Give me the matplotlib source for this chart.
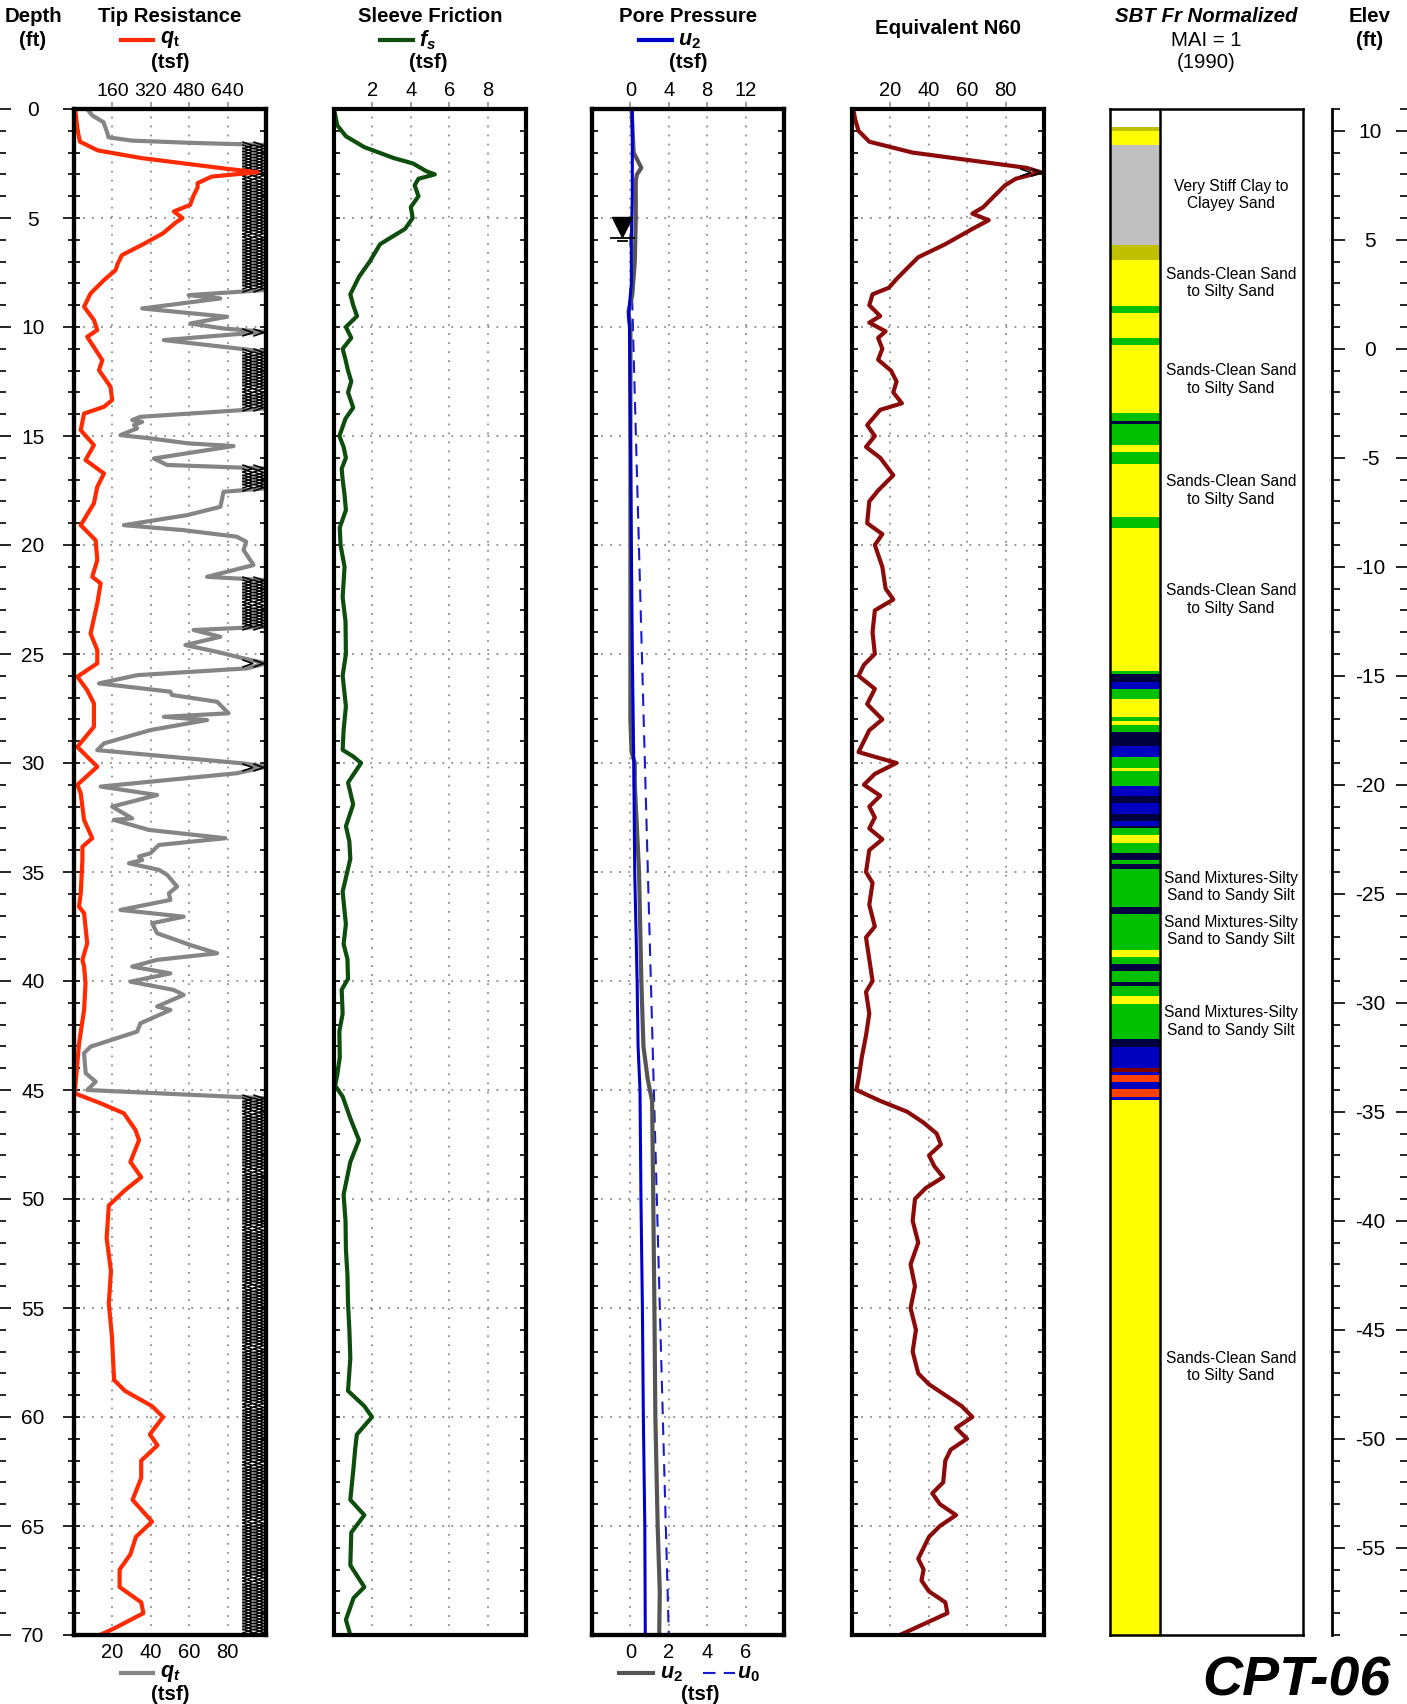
import matplotlib
matplotlib.use('Agg')
import matplotlib.pyplot as plt
import numpy as np
from matplotlib.path import Path
from matplotlib.lines import Line2D
from matplotlib.ticker import MultipleLocator

plt.rcParams['font.family'] = ['Liberation Sans', 'DejaVu Sans']
plt.rcParams['axes.unicode_minus'] = False
plt.rcParams['mathtext.fontset'] = 'custom'
plt.rcParams['mathtext.it'] = 'Liberation Sans:bold:italic'
plt.rcParams['mathtext.rm'] = 'Liberation Sans:bold'
plt.rcParams['mathtext.bf'] = 'Liberation Sans:bold'

# ---------------- data (depth in ft) ----------------
# tip resistance, top scale 0-800 tsf (red)
qt_depth = [0, 0.5, 1.0, 1.5, 1.9, 2.25, 2.5, 2.75, 2.9, 3.1,
            3.4, 3.6, 4.0, 4.4, 4.7, 5.0, 5.2, 5.7, 6.2, 6.7,
            7.1, 7.39, 7.85, 8.46, 9.07, 9.68, 10.14, 10.45, 11.52, 11.98,
            12.74, 13.35, 13.66, 13.97, 14.73, 15.42, 16.1, 16.72, 17.33, 18.09,
            19.09, 19.78, 20.69, 21.46, 21.76, 22.68, 24.06, 24.82, 25.43, 26.04,
            26.66, 27.27, 28.34, 29.26, 30.17, 31.0, 31.39, 32.61, 33.45, 33.84,
            34.45, 35.98, 36.59, 36.89, 38.27, 39.03, 39.34, 40.1, 41.33, 42.86,
            45.15, 45.61, 46.07, 46.83, 47.3, 48.3, 49.0, 49.6, 50.3, 51.8,
            53.3, 54.8, 56.3, 58.3, 58.8, 59.5, 60.0, 60.8, 61.3, 62.0,
            62.8, 63.8, 64.8, 65.5, 66.3, 67.0, 67.8, 68.5, 69.0, 69.7,
            70.0]
qt = [5, 10, 15, 25, 99, 280, 461, 642, 765, 574,
      515, 515, 497, 484, 416, 452, 425, 371, 289, 200,
      182, 173, 125, 69, 42, 83, 97, 55, 118, 104,
      152, 159, 125, 42, 28, 83, 48, 125, 97, 83,
      28, 90, 97, 76, 111, 97, 69, 97, 97, 14,
      55, 83, 83, 14, 97, 14, 28, 42, 76, 35,
      35, 28, 21, 42, 55, 35, 42, 48, 42, 21,
      3, 111, 208, 256, 271, 235, 280, 212, 145, 136,
      154, 145, 158, 167, 212, 325, 371, 316, 348, 280,
      280, 244, 325, 258, 235, 190, 190, 280, 289, 167,
      108]

# tip resistance, zoomed bottom scale 0-100 tsf (gray); 100 = off scale
qtz_depth = [0, 0.3, 0.6, 1.0, 1.3, 1.45, 1.55, 1.65, 8.3, 8.54,
             8.69, 9.15, 9.53, 9.84, 10.07, 10.22, 10.6, 10.98, 11.14, 13.74,
             14.12, 14.27, 14.35, 14.5, 14.65, 14.96, 15.11, 15.34, 15.46, 16.03,
             16.33, 16.49, 17.4, 17.56, 18.25, 18.63, 19.09, 19.32, 19.62, 19.85,
             20.23, 20.92, 21.46, 21.61, 23.75, 23.9, 24.21, 24.59, 24.9, 25.2,
             25.43, 25.66, 25.97, 26.35, 26.73, 26.88, 27.19, 27.72, 27.88, 28.03,
             28.49, 29.1, 29.41, 30.02, 30.17, 30.47, 31.08, 31.47, 32.0, 32.54,
             32.61, 33.07, 33.45, 33.76, 34.14, 34.29, 34.45, 34.6, 34.9, 35.13,
             35.67, 35.98, 36.28, 36.74, 37.05, 37.35, 37.81, 38.35, 38.73, 39.03,
             39.34, 39.65, 40.03, 40.41, 40.64, 41.17, 41.33, 41.94, 42.32, 43.01,
             43.31, 44.23, 44.62, 45.0, 45.38, 70.0]
qtz = [6.8, 9.6, 15.3, 17, 18, 30, 60, 100, 100, 59.7,
       76.2, 35.5, 79.7, 60.6, 77.9, 100, 46.8, 84.8, 100, 100,
       34.6, 30.3, 35.5, 31.2, 32.9, 24.2, 39.8, 59.7, 83.1, 41.6,
       48.5, 100, 100, 77.9, 76.2, 58.9, 26.0, 57.1, 84.8, 89.7,
       88.3, 93.5, 69.3, 100, 100, 62.3, 76.2, 58.0, 74.5, 88.3,
       100, 90, 33, 13, 50.2, 51, 74.5, 80.5, 46.8, 69.3,
       39.8, 15.6, 12.1, 88.3, 100, 84.8, 13.9, 43.3, 19.9, 30.3,
       20.8, 39, 78.8, 44.2, 39.8, 33.8, 35.5, 28.6, 44.2, 48.5,
       53.7, 49.4, 50.2, 24.2, 57.1, 40.7, 43.3, 60.6, 74.5, 43.3,
       30.3, 50.2, 29.4, 51.9, 57.1, 43.3, 50.2, 34.6, 32.9, 8.7,
       5.2, 6.1, 11.3, 6.9, 100, 100]
qtz_over = [(1.65, 8.3), (10.22, 10.22), (11.14, 13.74), (16.49, 17.4),
            (21.61, 23.75), (25.43, 25.43), (30.17, 30.17), (45.38, 70.0)]

# sleeve friction (tsf)
fs_depth = [0, 0.75, 1.25, 1.75, 2.25, 2.5, 2.85, 3.0, 3.2, 3.5,
            4.0, 4.5, 5.0, 5.5, 6.2, 7.0, 7.7, 8.5, 9.0, 9.5,
            10.0, 10.5, 11.0, 11.5, 12.0, 12.5, 13.0, 13.7, 14.2, 15.0,
            15.5, 16.0, 16.5, 17.0, 17.7, 18.4, 19.2, 20.0, 21.0, 22.4,
            23.5, 25.0, 26.0, 27.4, 28.5, 29.4, 29.7, 30.0, 30.9, 31.9,
            32.9, 33.6, 34.4, 35.9, 37.4, 38.3, 39.0, 39.9, 40.4, 41.5,
            42.3, 43.5, 44.3, 44.8, 45.3, 46.3, 47.3, 48.3, 49.8, 51.0,
            52.3, 53.5, 54.8, 56.0, 57.3, 58.8, 59.5, 60.0, 60.8, 61.5,
            62.3, 63.8, 64.5, 65.3, 66.8, 67.8, 68.3, 69.3, 70.0]
fs = [0, 0.17, 0.62, 1.58, 3.11, 4.12, 4.8, 5.25, 4.4, 4.2,
      4.4, 4.0, 4.1, 3.7, 2.4, 1.86, 1.3, 0.85, 1.0, 1.2,
      0.62, 0.9, 0.45, 0.6, 0.73, 0.9, 0.73, 1.0, 0.6, 0.28,
      0.5, 0.62, 0.4, 0.45, 0.55, 0.62, 0.3, 0.34, 0.55, 0.45,
      0.6, 0.62, 0.45, 0.62, 0.5, 0.45, 1.0, 1.41, 0.73, 1.0,
      0.62, 0.8, 0.85, 0.45, 0.62, 0.5, 0.7, 0.73, 0.4, 0.45,
      0.28, 0.3, 0.17, 0.06, 0.45, 0.85, 1.3, 0.85, 0.5, 0.6,
      0.62, 0.7, 0.73, 0.8, 0.85, 0.73, 1.58, 1.98, 1.19, 1.1,
      1.02, 0.85, 1.58, 0.9, 0.85, 1.58, 1.02, 0.62, 0.85]

# pore pressure u2 (blue, top scale)
u2_depth = [0, 2, 4, 6, 8, 9, 9.5, 10, 15, 20, 25, 30, 35, 40, 43, 45, 50, 55, 60, 65, 70]
u2 = [0.2, 0.2, 0.2, 0.1, 0.1, -0.1, -0.2, -0.1, 0, 0.1, 0.2, 0.35, 0.45, 0.7, 0.8,
      1.0, 1.1, 1.25, 1.35, 1.5, 1.55]
# pore pressure u2 (gray, bottom scale)
u2b_depth = [0, 2, 2.7, 3.0, 3.3, 5, 7, 8.5, 9.3, 10, 20, 28, 29.5, 30, 31, 35, 40,
             43, 44.5, 45.5, 50, 55, 60, 65, 68, 70]
u2b = [0.06, 0.17, 0.57, 0.34, 0.28, 0.28, 0.23, 0.1, -0.1, 0, 0, 0, 0.06, 0.23, 0.23,
       0.45, 0.57, 0.68, 0.9, 1.13, 1.19, 1.25, 1.3, 1.42, 1.53, 1.5]
# hydrostatic u0
u0_depth = [5.8, 70]
u0 = [0, 2.0]
water_depth = 5.4

# equivalent N60
n60_depth = [0, 0.5, 1, 1.5, 2, 2.4, 2.7, 2.9, 3.2, 3.5,
             4, 4.5, 4.8, 5.1, 5.5, 6.2, 6.8, 7.3, 7.8, 8.2,
             8.5, 9, 9.5, 9.8, 10.2, 10.5, 11, 11.5, 12, 12.5,
             13, 13.5, 13.8, 14.5, 15, 15.5, 16, 16.8, 17.5, 18,
             19, 19.5, 20, 21, 22, 22.5, 23, 24, 25, 25.5,
             26, 26.6, 27.3, 28, 28.5, 29, 29.5, 30, 30.5, 31,
             31.5, 32, 32.5, 33, 33.5, 34, 35, 35.5, 36.5, 37.5,
             38, 39, 40, 40.5, 41.5, 42.5, 43.5, 44.5, 45, 45.5,
             46, 46.5, 47, 47.5, 48, 48.5, 49, 49.5, 50, 51,
             52, 53, 54, 55, 56, 57, 58, 58.5, 59, 59.5,
             60, 60.5, 61, 61.5, 62, 63, 63.5, 64, 64.5, 65,
             65.5, 66.5, 67, 67.5, 68, 68.5, 69, 69.5, 70]
n60 = [0.6, 1.7, 3.4, 9, 31.6, 65.5, 91, 98.3, 85.3, 79.7,
       74, 68.4, 62.7, 71.2, 62.7, 48.6, 34.5, 28.8, 23.2, 19.2,
       10.7, 9, 14.7, 9, 17.5, 13.6, 15.8, 13.6, 20.3, 23.2,
       21.5, 26, 14.7, 7.9, 11.9, 7.3, 14.7, 21.5, 13.6, 9,
       7.9, 15.8, 11.9, 15.8, 17.5, 21.5, 11.9, 10.7, 11.9, 6.2,
       3.4, 11.9, 7.9, 15.8, 9, 6.2, 3.4, 23.2, 11.9, 6.2,
       14.7, 9, 11.9, 9, 15.8, 9, 7.3, 10.7, 9, 11.9,
       7.3, 9, 10.7, 7.3, 9, 7.3, 5.1, 3.4, 2.3, 14.7,
       28.8, 37.3, 44.1, 46.3, 40.1, 42.9, 47.5, 38.4, 32.8, 31.6,
       34.5, 30.5, 32.8, 30.5, 33.3, 31.6, 34.5, 40.1, 48.6, 57.1,
       62.7, 54.2, 59.9, 51.4, 48.6, 47.5, 41.8, 45.8, 54.2, 45.8,
       40.1, 34.5, 37.3, 36.2, 40.1, 48.6, 49.7, 37.3, 24.9]
n60_over = [2.9]

# SBT layers (top depth of each layer, last one runs to 70 ft)
sbt_top = [0.81, 0.99, 1.65, 6.24, 6.93, 9.04, 9.34, 10.5, 10.83, 13.93,
           14.31, 14.45, 15.41, 15.73, 16.27, 18.70, 19.2, 25.77, 25.92, 26.27,
           26.62, 27.07, 27.88, 28.06, 28.26, 28.58, 29.22, 29.74, 30.22, 30.36,
           31.06, 31.52, 31.85, 32.34, 32.65, 32.88, 33.0, 33.31, 33.69, 34.15,
           34.45, 34.64, 34.84, 36.62, 36.93, 38.58, 38.89, 39.22, 39.53, 40.05,
           40.23, 40.69, 41.06, 42.65, 43.02, 43.98, 44.16, 44.31, 44.62, 44.97,
           45.31, 45.46]
sbt_zone = ['olive', 'yellow', 'gray', 'olive', 'yellow', 'green', 'yellow', 'green', 'yellow', 'green',
            'navy', 'green', 'yellow', 'green', 'yellow', 'green', 'yellow', 'green', 'navy', 'blue',
            'green', 'yellow', 'green', 'yellow', 'green', 'navy', 'blue', 'green', 'yellow', 'green',
            'blue', 'navy', 'blue', 'navy', 'blue', 'navy', 'green', 'yellow', 'green', 'navy',
            'green', 'navy', 'green', 'navy', 'green', 'yellow', 'green', 'navy', 'green', 'navy',
            'green', 'yellow', 'green', 'navy', 'blue', 'maroon', 'blue', 'orange', 'blue', 'orange',
            'blue', 'yellow']
sbt_colors = {'olive': '#c0c000', 'yellow': '#ffff00', 'gray': '#c0c0c0', 'green': '#00c000',
              'navy': '#000040', 'blue': '#0000c0', 'maroon': '#800000', 'orange': '#ff4000'}
sbt_label_depth = [3.94, 7.97, 12.4, 17.5, 22.5, 35.7, 37.7, 41.85, 57.7]
sbt_label = ['Very Stiff Clay to\nClayey Sand',
             'Sands-Clean Sand\nto Silty Sand',
             'Sands-Clean Sand\nto Silty Sand',
             'Sands-Clean Sand\nto Silty Sand',
             'Sands-Clean Sand\nto Silty Sand',
             'Sand Mixtures-Silty\nSand to Sandy Silt',
             'Sand Mixtures-Silty\nSand to Sandy Silt',
             'Sand Mixtures-Silty\nSand to Sandy Silt',
             'Sands-Clean Sand\nto Silty Sand']
ground_elev = 11.0

# ---------------- figure ----------------
W, H = 1407, 1704
TOP, BOT = 109, 1635
fig = plt.figure(figsize=(W / 100, H / 100), dpi=100)


def box(x0, x1):
    return [x0 / W, 1 - BOT / H, (x1 - x0) / W, (BOT - TOP) / H]


def fx(x):
    return x / W


def fy(y):
    return 1 - y / H


RED = '#ff2a00'
GRAY = '#858585'
chevron = Path([(-1, 0.7), (1, 0), (-1, -0.7)], [Path.MOVETO, Path.LINETO, Path.LINETO])


def make_panel(x0, x1):
    ax = fig.add_axes(box(x0, x1))
    ax.set_ylim(70, 0)
    ax.yaxis.set_major_locator(MultipleLocator(5))
    ax.yaxis.set_minor_locator(MultipleLocator(1))
    ax.tick_params(axis='y', which='both', left=True, right=True, direction='in',
                   length=4.5, width=1.2, labelleft=False)
    ax.grid(True, which='major', color='#8c8c8c', linestyle=(0, (1, 4)), linewidth=1.3)
    ax.set_axisbelow(True)
    for s in ax.spines.values():
        s.set_linewidth(3)
    return ax


def top_scale(ax, lim, ticks, size=14.5):
    ax.set_xlim(*lim)
    ax.set_xticks(ticks)
    ax.xaxis.tick_top()
    ax.tick_params(axis='x', direction='out', length=5, width=1.2, color='#909090',
                   labelsize=size, pad=1.5)


def bottom_scale(ax, lim, ticks):
    ax.set_xlim(*lim)
    ax.set_xticks(ticks)
    ax.xaxis.tick_bottom()
    ax.tick_params(axis='x', length=0, labelsize=14.5, pad=6)


def chevrons(ax, depths, xs=(90, 96)):
    for xc in xs:
        ax.plot(np.full(len(depths), xc), depths, ls='none', marker=chevron, ms=7.5,
                mfc='none', mec='black', mew=1.15, zorder=4)


# panel 1: tip resistance
ax1 = make_panel(74, 266)
bottom_scale(ax1, (0, 100), [20, 40, 60, 80])
ax1.plot(qtz, qtz_depth, color=GRAY, lw=3)
for d0, d1 in qtz_over:
    ds = np.arange(d0, d1 + 0.01, 0.14) if d1 > d0 else np.array([d0])
    chevrons(ax1, ds)
ax1t = ax1.twiny()
top_scale(ax1t, (0, 800), [160, 320, 480, 640], size=14)
ax1t.plot(qt, qt_depth, color=RED, lw=3)
for s in ax1t.spines.values():
    s.set_linewidth(3)

# panel 2: sleeve friction
ax2 = make_panel(334, 526)
top_scale(ax2, (0, 10), [2, 4, 6, 8])
ax2.plot(fs, fs_depth, color='#0d4d0d', lw=3)

# panel 3: pore pressure
ax3 = make_panel(592, 784)
bottom_scale(ax3, (-2, 8), [0, 2, 4, 6])
ax3.plot(u0, u0_depth, color='#1a1acc', lw=1.5, dashes=(6, 4))
ax3.plot(u2b, u2b_depth, color='#555555', lw=3)
ax3t = ax3.twiny()
top_scale(ax3t, (-4, 16), [0, 4, 8, 12])
ax3t.plot(u2, u2_depth, color='#0000cc', lw=2.2)
for s in ax3t.spines.values():
    s.set_linewidth(3)
ax3t.plot([-0.9], [water_depth], marker='v', ms=14, color='black', ls='none')
ax3t.plot([-2.05, 0.35], [water_depth + 0.5] * 2, color='black', lw=1.3)
ax3t.plot([-1.3, -0.4], [water_depth + 0.65] * 2, color='black', lw=1.3)

# panel 4: N60
ax4 = make_panel(852, 1044)
top_scale(ax4, (0, 100), [20, 40, 60, 80])
ax4.plot(n60, n60_depth, color='#8b0a0a', lw=3)
chevrons(ax4, np.array(n60_over))

# panel 5: SBT
ax5 = fig.add_axes(box(1110, 1303))
ax5.set_xlim(0, 1)
ax5.set_ylim(70, 0)
col_w = 50 / 193
sbt_bot = sbt_top[1:] + [70.0]
ax5.bar(0, np.array(sbt_bot) - np.array(sbt_top), bottom=sbt_top, width=col_w, align='edge',
        color=[sbt_colors[z] for z in sbt_zone], linewidth=0)
ax5.axvline(col_w, color='black', lw=1.8)
ax5.set_xticks([])
ax5.set_yticks([])
for s in ax5.spines.values():
    s.set_linewidth(1.8)
for d, lbl in zip(sbt_label_depth, sbt_label):
    ax5.text(0.627, d, lbl, ha='center', va='center', fontsize=11.2, linespacing=1.2)

# depth axis
axd = fig.add_axes(box(0, 74))
axd.set_ylim(70, 0)
axd.set_xticks([])
for s in axd.spines.values():
    s.set_visible(False)
axd.patch.set_visible(False)
axd.yaxis.set_major_locator(MultipleLocator(5))
axd.yaxis.set_minor_locator(MultipleLocator(1))
axd.tick_params(axis='y', which='major', left=True, right=True, direction='in', length=8,
                width=1.2, labelsize=15, pad=-23.8)
axd.tick_params(axis='y', which='minor', left=True, right=True, direction='in', length=4, width=1.2)
for t in axd.get_yticklabels():
    t.set_ha('center')

# elevation axis
axe = fig.add_axes(box(1332, 1408))
axe.set_ylim(ground_elev - 70, ground_elev)
axe.set_xticks([])
for k, s in axe.spines.items():
    s.set_visible(k == 'left')
axe.spines['left'].set_linewidth(2)
axe.patch.set_visible(False)
axe.yaxis.set_major_locator(MultipleLocator(5))
axe.yaxis.set_minor_locator(MultipleLocator(1))
axe.tick_params(axis='y', which='major', left=True, right=True, direction='in', length=9,
                width=1.2, labelsize=15, pad=-27.4)
axe.tick_params(axis='y', which='minor', left=True, right=True, direction='in', length=6, width=1.2)
for t in axe.get_yticklabels():
    t.set_ha('center')

# ---------------- header / footer texts ----------------
def txt(x, y, s, **kw):
    kw.setdefault('fontsize', 14.7)
    kw.setdefault('fontweight', 'bold')
    fig.text(fx(x), fy(y), s, ha=kw.pop('ha', 'center'), va=kw.pop('va', 'center'), **kw)


def key(x0, x1, y, **kw):
    fig.add_artist(Line2D([fx(x0), fx(x1)], [fy(y), fy(y)], transform=fig.transFigure, **kw))


txt(33, 16, 'Depth')
txt(33, 40, '(ft)')
txt(170, 16, 'Tip Resistance')
key(121, 153, 40, color=RED, lw=3)
txt(160, 40, r'$q_\mathrm{t}$', ha='left', fontsize=15.5)
txt(170, 62, '(tsf)')

txt(430, 16, 'Sleeve Friction')
key(380, 413, 40, color='#0d4d0d', lw=3)
txt(419, 40, r'$f_s$', ha='left', fontsize=15.5)
txt(428, 62, '(tsf)')

txt(688, 16, 'Pore Pressure')
key(639, 672, 40, color='#0000cc', lw=3)
txt(678, 40, r'$u_2$', ha='left', fontsize=15.5)
txt(688, 62, '(tsf)')

txt(948, 29, 'Equivalent N60')

txt(1206, 16, 'SBT Fr Normalized', style='italic')
txt(1206, 40, 'MAI = 1', fontweight='normal')
txt(1206, 62, '(1990)', fontweight='normal')

txt(1370, 16, 'Elev')
txt(1370, 40, '(ft)')

key(121, 153, 1673, color=GRAY, lw=3)
txt(160, 1673, r'$q_t$', ha='left', fontsize=15.5)
txt(170, 1694, '(tsf)')

key(619, 653, 1673, color='#555555', lw=3)
txt(660, 1673, r'$u_2$', ha='left', fontsize=15.5)
key(703, 735, 1673, color='#1a1acc', lw=1.5, dashes=(6, 4))
txt(737, 1673, r'$u_0$', ha='left', fontsize=15.5)
txt(700, 1694, '(tsf)')

txt(1391, 1681, 'CPT-06', ha='right', fontsize=40, style='italic')

fig.savefig('out.png', dpi=100, facecolor='white')
